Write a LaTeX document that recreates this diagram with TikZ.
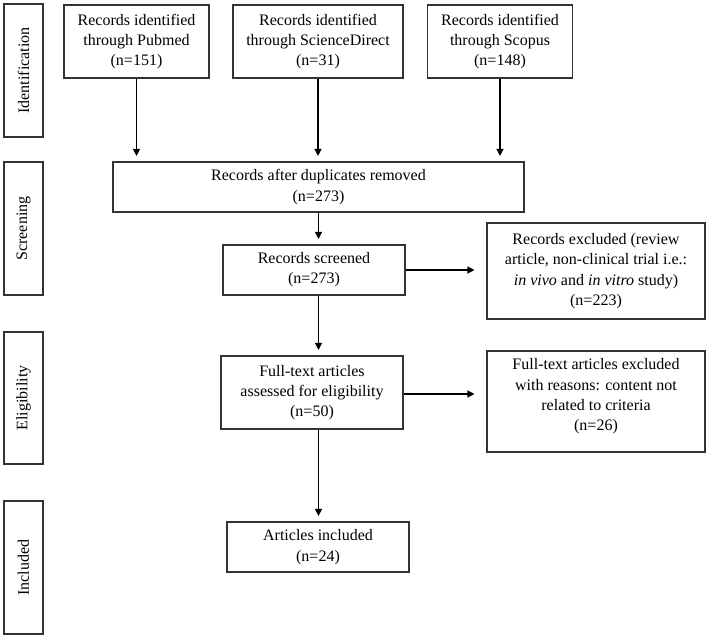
\documentclass[tikz,border=0pt]{standalone}
\usepackage{fontspec}
\setmainfont{Liberation Serif}
\usetikzlibrary{arrows.meta}
\begin{document}
\begin{tikzpicture}[x=1pt,y=-1pt,
  box/.style={draw=black!80,line width=1.1pt,rectangle,inner sep=0pt,align=center,
    font=\fontsize{16}{20.3}\selectfont},
  txt/.style={inner sep=0pt,align=center,font=\fontsize{16}{20.3}\selectfont},
  side/.style={box,rotate=90,minimum height=39pt},
  arr/.style={line width=1.2pt,-{Triangle[length=7pt,width=7pt]},shorten >=5.5pt}
]
\useasboundingbox (0,0) rectangle (708,639);
% side labels
\node[side,minimum width=133pt] (sid) at (23.5,70.5) {Identification};
\node[side,minimum width=133pt] (sscr) at (23.5,228.5) {Screening};
\node[side,minimum width=132pt] (sel) at (23.5,398) {Eligibility};
\node[side,minimum width=133pt] (sinc) at (23.5,567.5) {Included};
% identification
\node[box,minimum width=145pt,minimum height=73pt] (pub) at (136.5,41.5) {Records identified\\through Pubmed\\(n=151)};
\node[box,minimum width=170pt,minimum height=73pt] (sd) at (318,41.5) {Records identified\\through ScienceDirect\\(n=31)};
\node[box,minimum width=145pt,minimum height=73pt] (sc) at (500,41.5) {Records identified\\through Scopus\\(n=148)};
% screening
\node[box,minimum width=411pt,minimum height=50pt] (dup) at (318.5,187) {Records after duplicates removed\\(n=273)};
\node[box,minimum width=182pt,minimum height=50pt] (scr) at (314,270) {Records screened\\(n=273)};
\node[box,minimum width=218pt,minimum height=96pt] (ex1) at (596,271) {Records excluded (review\\article, non-clinical trial i.e.:\\\textit{in vivo} and \textit{in vitro} study)\\(n=223)};
% eligibility
\node[box,minimum width=182pt,minimum height=73pt] (ft) at (312,392.5) {Full-text articles\\assessed for eligibility\\(n=50)};
\node[box,minimum width=218pt,minimum height=101pt] (ex2) at (596,401.5) {};
\node[txt] (ex2t) at (596,396.5) {Full-text articles excluded\\with reasons: content not\\related to criteria\\(n=26)};
% included
\node[box,minimum width=182pt,minimum height=50pt] (inc) at (318,547) {Articles included\\(n=24)};
% connectors
\draw[arr] (pub.south) -- (pub.south |- dup.north);
\draw[arr] (sd.south) -- (sd.south |- dup.north);
\draw[arr] (sc.south) -- (sc.south |- dup.north);
\draw[arr] (dup.south) -- (dup.south |- scr.north);
\draw[arr] (dup.south |- scr.south) -- (dup.south |- ft.north);
\draw[arr] (dup.south |- ft.south) -- (dup.south |- inc.north);
\draw[arr,shorten >=12pt] (scr.east) -- (scr.east -| ex1.west);
\draw[arr,shorten >=12pt] ([yshift=-1.5pt]ft.east) -- ([yshift=-1.5pt]ft.east -| ex2.west);
\end{tikzpicture}
\end{document}
